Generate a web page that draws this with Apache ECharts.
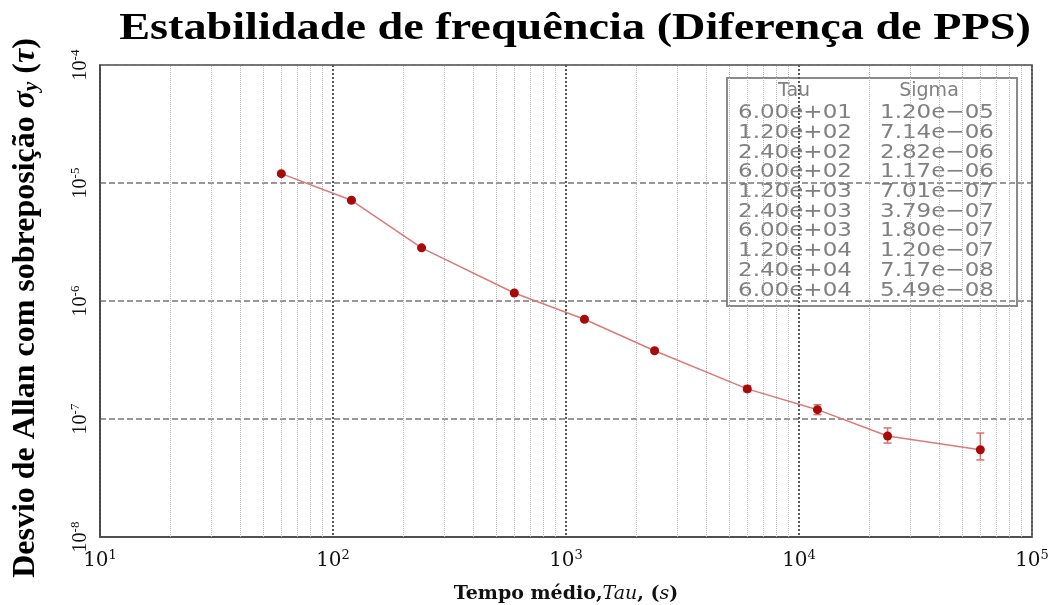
<!DOCTYPE html>
<html>
<head>
<meta charset="utf-8">
<script src="https://cdn.jsdelivr.net/npm/echarts@6/dist/echarts.min.js"></script>
<style>
html,body{margin:0;padding:0;background:#fff;}
#main{width:1055px;height:605px;}
</style>
</head>
<body>
<div id="main"></div>
<script>
// dados
var tau = [60, 120, 240, 600, 1200, 2400, 6000, 12000, 24000, 60000];
var sigma = [1.20e-5, 7.14e-6, 2.82e-6, 1.17e-6, 7.01e-7, 3.79e-7, 1.80e-7, 1.20e-7, 7.17e-8, 5.49e-8];
// barras de erro (estimadas)
var errLo = [1.17e-5, 6.95e-6, 2.75e-6, 1.14e-6, 6.80e-7, 3.66e-7, 1.70e-7, 1.09e-7, 6.25e-8, 4.50e-8];
var errHi = [1.23e-5, 7.33e-6, 2.89e-6, 1.20e-6, 7.22e-7, 3.92e-7, 1.91e-7, 1.32e-7, 8.40e-8, 7.60e-8];
var xDecades = [1, 2, 3, 4];
var yDecades = [-8, -7, -6, -5];
var minorMult = [2, 3, 4, 5, 6, 7, 8, 9];

function sci(v) {
	var e = Math.floor(Math.log10(v) + 1e-9);
	var m = v / Math.pow(10, e);
	var s = Math.abs(e) < 10 ? '0' + Math.abs(e) : '' + Math.abs(e);
	return m.toFixed(2) + 'e' + (e < 0 ? '\u2212' : '+') + s;
}

var minorLines = [];
xDecades.forEach(function (d) {
	minorMult.forEach(function (m) { minorLines.push({xAxis: m * Math.pow(10, d)}); });
});
yDecades.forEach(function (d) {
	minorMult.forEach(function (m) { minorLines.push({yAxis: m * Math.pow(10, d)}); });
});

function powLabel(v) {
	return '{b|10}{s|' + Math.round(Math.log10(v)) + '}';
}

// tabela Tau / Sigma + título esticado
var tableFont = '20px "DejaVu Sans"';
var tableEls = [{
	type: 'text', x: 575, y: 29, scaleX: 1.25, originX: 0, originY: 0,
	style: {text: 'Estabilidade de frequência (Diferença de PPS)', fill: '#000',
		font: 'bold 37px "Liberation Serif"', align: 'center', verticalAlign: 'middle'}
}, {
	type: 'rect',
	shape: {x: 727, y: 78, width: 290, height: 228},
	style: {fill: '#fff', stroke: '#8a8a8a', lineWidth: 2}
}, {
	type: 'text', x: 794, y: 91,
	style: {text: 'Tau', fill: '#808080', font: '19px "DejaVu Sans"', align: 'center', verticalAlign: 'middle'}
}, {
	type: 'text', x: 929, y: 91,
	style: {text: 'Sigma', fill: '#808080', font: '19px "DejaVu Sans"', align: 'center', verticalAlign: 'middle'}
}];
tau.forEach(function (t, i) {
	var y = 113 + i * 19.7;
	tableEls.push({type: 'text', x: 738, y: y, scaleX: 1.15,
		style: {text: sci(t), fill: '#808080', font: tableFont, verticalAlign: 'middle'}});
	tableEls.push({type: 'text', x: 880, y: y, scaleX: 1.15,
		style: {text: sci(sigma[i]), fill: '#808080', font: tableFont, verticalAlign: 'middle'}});
});

var chart = echarts.init(document.getElementById('main'));
chart.setOption({
	backgroundColor: '#fff',
	animation: false,
	grid: {
		left: 100, right: 23, top: 65, bottom: 68,
		containLabel: false, outerBoundsMode: 'none',
		show: true, borderColor: '#444', borderWidth: 1.5, backgroundColor: '#fff'
	},
	xAxis: {
		type: 'log', logBase: 10, min: 10, max: 100000,
		name: '{t|Tempo médio,}{i|Tau}{t|, (}{i|s}{t|)}',
		nameLocation: 'middle', nameGap: 48,
		nameTextStyle: {
			rich: {
				t: {fontFamily: 'DejaVu Serif', fontWeight: 'bold', fontSize: 19, color: '#111'},
				i: {fontFamily: 'DejaVu Serif', fontStyle: 'italic', fontSize: 19, color: '#111'}
			}
		},
		axisLine: {show: true, lineStyle: {color: '#444', width: 1.5}},
		axisTick: {show: false},
		axisLabel: {
			margin: 12,
			formatter: powLabel,
			rich: {
				b: {fontFamily: 'DejaVu Serif', fontSize: 20, color: '#111'},
				s: {fontFamily: 'DejaVu Serif', fontSize: 13, color: '#111', padding: [0, 0, 10, 0]}
			}
		},
		splitLine: {show: true, lineStyle: {type: 'dotted', color: '#555', width: 2}}
	},
	yAxis: {
		type: 'log', logBase: 10, min: 1e-8, max: 1e-4,
		name: '{t|Desvio de Allan com sobreposição }{i|σ}{sub|y}{t| (}{i|τ}{t|)}',
		nameLocation: 'middle', nameRotate: 90, nameGap: 58,
		nameTextStyle: {
			padding: [0, 14, 0, 0],
			rich: {
				t: {fontFamily: 'Liberation Serif', fontWeight: 'bold', fontSize: 32, color: '#000'},
				i: {fontFamily: 'Liberation Serif', fontStyle: 'italic', fontWeight: 'bold', fontSize: 32, color: '#000'},
				sub: {fontFamily: 'Liberation Serif', fontStyle: 'italic', fontWeight: 'bold', fontSize: 21, color: '#000', padding: [12, 0, 0, 0]}
			}
		},
		axisLine: {show: true, lineStyle: {color: '#444', width: 1.5}},
		axisTick: {show: false},
		axisLabel: {
			rotate: 90,
			margin: 8,
			formatter: powLabel,
			rich: {
				b: {fontFamily: 'Liberation Serif', fontSize: 20, color: '#111'},
				s: {fontFamily: 'Liberation Serif', fontSize: 13, color: '#111', padding: [0, 0, 10, 0]}
			}
		},
		splitLine: {show: true, lineStyle: {type: 'dashed', color: '#777', width: 1.5}}
	},
	graphic: tableEls,
	series: [{
		type: 'line',
		data: tau.map(function (t, i) { return [t, sigma[i]]; }),
		symbol: 'circle',
		symbolSize: 9,
		z: 3,
		lineStyle: {color: '#dd7a78', width: 1.5},
		itemStyle: {color: '#a80a0a'},
		markLine: {
			silent: true,
			symbol: ['none', 'none'],
			label: {show: false},
			lineStyle: {type: 'dotted', color: '#b4b4b4', width: 1},
			data: minorLines,
			z: 1
		}
	}, {
		type: 'custom',
		z: 2,
		data: tau.map(function (t, i) { return [t, errLo[i], errHi[i]]; }),
		encode: {x: 0, y: [1, 2]},
		renderItem: function (params, api) {
			var lo = api.coord([api.value(0), api.value(1)]);
			var hi = api.coord([api.value(0), api.value(2)]);
			var w = 4;
			var st = {stroke: '#d9706e', lineWidth: 1.5};
			return {
				type: 'group',
				children: [
					{type: 'line', shape: {x1: lo[0], y1: lo[1], x2: hi[0], y2: hi[1]}, style: st},
					{type: 'line', shape: {x1: lo[0] - w, y1: lo[1], x2: lo[0] + w, y2: lo[1]}, style: st},
					{type: 'line', shape: {x1: hi[0] - w, y1: hi[1], x2: hi[0] + w, y2: hi[1]}, style: st}
				]
			};
		}
	}]
});
</script>
</body>
</html>
